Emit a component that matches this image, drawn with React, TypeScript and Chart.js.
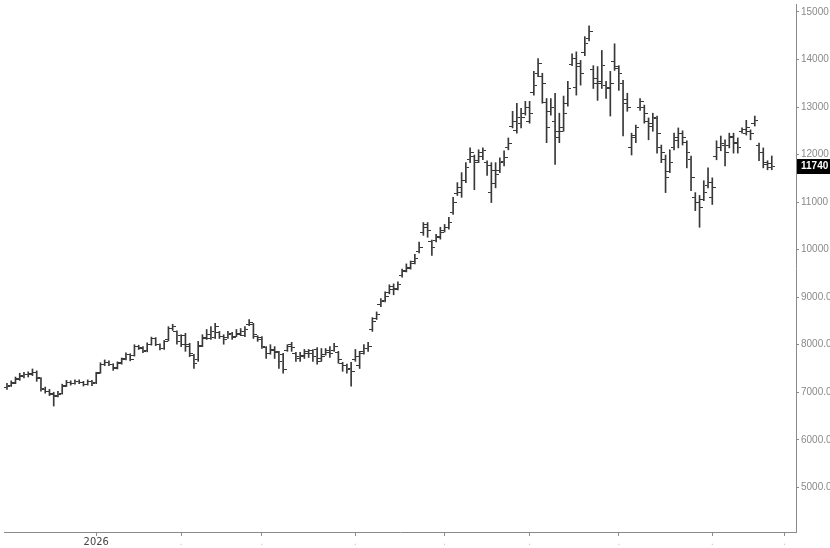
import React, { useEffect, useRef } from "react";
import { Chart, registerables } from "chart.js";

Chart.register(...registerables);

// OHLC values, one entry per trading session (index 0 = first visible bar)
const opens = [
  7090, 7150, 7200, 7280, 7340, 7370, 7390, 7420, 7290, 7060, 7010, 6960, 6930, 6980, 7140, 7200, 7190, 7220, 7200, 7170,
  7220, 7200, 7420, 7580, 7620, 7580, 7510, 7620, 7700, 7790, 7780, 7960, 7930, 7870, 8010, 8120, 8000, 7930, 8100, 8340,
  8270, 8190, 8200, 8000, 7780, 7680, 7980, 8150, 8140, 8150, 8260, 8180, 8150, 8230, 8180, 8220, 8200, 8420, 8430, 8170,
  8150, 7940, 7820, 7900, 7840, 7800, 7880, 8000, 7820, 7700, 7760, 7850, 7880, 7900, 7700, 7800, 7880, 7880, 7840, 7610,
  7560, 7500, 7680, 7560, 7850, 7920, 8320, 8560, 8840, 8930, 9100, 9220, 9180, 9460, 9560, 9630, 9740, 9960, 10350, 10520,
  10180, 10190, 10280, 10400, 10470, 10780, 11180, 11200, 11450, 11900, 11950, 11880, 11950, 11840, 11200, 11400, 11660, 11850, 12140, 12600,
  12500, 12650, 12870, 12700, 13300, 13700, 13650, 13100, 12900, 12700, 12350, 12560, 13080, 13900, 13400, 13850, 14150, 14450, 13780, 13500,
  13500, 13450, 13400, 13950, 13800, 13500, 13150, 12150, 12400, 13000, 13000, 12700, 12600, 12750, 12150, 11900, 11650, 12150, 12300, 12450,
  12250, 11900, 11100, 11000, 11050, 11350, 11100, 11950, 12150, 12200, 12200, 12380, 12250, 12480, 12450, 12480, 12650, 12200, 12050, 11800,
  11820,
];
const highs = [
  7190, 7240, 7320, 7400, 7420, 7430, 7490, 7450, 7310, 7110, 7060, 7000, 7020, 7170, 7250, 7240, 7260, 7260, 7230, 7260,
  7250, 7420, 7620, 7680, 7660, 7600, 7640, 7720, 7830, 7810, 8000, 7990, 7960, 8040, 8160, 8150, 8020, 8090, 8380, 8430,
  8290, 8210, 8240, 8030, 7800, 8070, 8210, 8320, 8380, 8450, 8280, 8210, 8280, 8260, 8320, 8340, 8380, 8530, 8450, 8190,
  8170, 7960, 8000, 7960, 7860, 7820, 8000, 8050, 7840, 7840, 7900, 7900, 7900, 7940, 7920, 7920, 7960, 8030, 7860, 7630,
  7590, 7630, 7900, 7860, 8000, 8050, 8570, 8690, 8970, 9110, 9260, 9280, 9320, 9590, 9700, 9760, 9900, 10160, 10570, 10570,
  10200, 10320, 10470, 10530, 10680, 11100, 11410, 11620, 11830, 12140, 11990, 12100, 12140, 11870, 11830, 11830, 11930, 12080, 12350, 12910,
  13080, 12970, 13120, 13120, 13750, 14020, 13710, 13180, 13180, 13290, 12870, 13230, 13540, 14120, 14160, 13980, 14480, 14710, 13870, 13850,
  14190, 13540, 13750, 14330, 13870, 13560, 13290, 12450, 12620, 13180, 13040, 12770, 12870, 12810, 12200, 11990, 12100, 12450, 12560, 12500,
  12290, 11970, 11200, 11140, 11450, 11720, 11510, 12290, 12390, 12310, 12450, 12450, 12350, 12560, 12720, 12520, 12810, 12240, 12140, 11870,
  11970,
];
const lows = [
  7060, 7120, 7180, 7250, 7300, 7320, 7350, 7230, 7020, 6980, 6930, 6710, 6900, 6960, 7120, 7150, 7170, 7180, 7130, 7150,
  7140, 7180, 7400, 7560, 7560, 7460, 7490, 7590, 7680, 7660, 7760, 7900, 7830, 7850, 7990, 7980, 7890, 7900, 8080, 8300,
  8010, 7960, 7860, 7750, 7500, 7650, 7960, 8110, 8110, 8130, 8130, 8010, 8130, 8110, 8170, 8190, 8170, 8400, 8130, 8070,
  7920, 7710, 7800, 7710, 7500, 7400, 7860, 7860, 7650, 7650, 7710, 7730, 7650, 7590, 7650, 7780, 7730, 7860, 7610, 7440,
  7400, 7130, 7650, 7500, 7800, 7860, 8280, 8530, 8800, 8900, 9070, 9050, 9150, 9420, 9530, 9590, 9700, 9930, 10300, 10260,
  9880, 10160, 10220, 10370, 10430, 10740, 11140, 11100, 11410, 11830, 11260, 11830, 11890, 11560, 10990, 11300, 11620, 11760, 12100, 12560,
  12450, 12560, 12830, 12660, 13250, 13640, 13080, 12250, 12830, 11790, 12250, 12490, 13020, 13870, 13250, 13460, 14080, 14390, 13390, 13140,
  13390, 13180, 12810, 13770, 13350, 12390, 12910, 11990, 12250, 12930, 12660, 12310, 12490, 12030, 11830, 11200, 11620, 12100, 12140, 12200,
  11720, 11240, 10820, 10470, 11030, 11300, 10950, 11890, 12080, 11760, 12140, 12030, 12030, 12450, 12410, 12310, 12600, 11870, 11720, 11680,
  11680,
];
const closes = [
  7130, 7190, 7270, 7360, 7380, 7380, 7420, 7320, 7070, 7020, 6980, 6920, 6960, 7130, 7210, 7190, 7230, 7210, 7170, 7230,
  7190, 7400, 7590, 7630, 7590, 7500, 7610, 7690, 7800, 7690, 7960, 7940, 7860, 8000, 8130, 8000, 7920, 8070, 8340, 8380,
  8070, 8010, 7960, 7820, 7610, 7960, 8130, 8210, 8280, 8380, 8170, 8110, 8210, 8150, 8230, 8280, 8320, 8470, 8210, 8110,
  7960, 7820, 7880, 7860, 7650, 7480, 7960, 7940, 7750, 7780, 7820, 7820, 7750, 7650, 7750, 7840, 7820, 7960, 7690, 7570,
  7480, 7440, 7750, 7820, 7920, 7960, 8490, 8630, 8900, 9010, 9170, 9170, 9260, 9530, 9610, 9700, 9820, 10050, 10470, 10410,
  10050, 10260, 10370, 10470, 10570, 10990, 11300, 11450, 11720, 12040, 11830, 12040, 12080, 11760, 11660, 11580, 11830, 11930, 12240, 12700,
  12770, 12770, 12980, 12870, 13460, 13910, 13500, 12560, 12980, 12490, 12490, 12870, 13390, 14020, 13910, 13710, 14330, 14580, 13600, 13540,
  13870, 13390, 13500, 13850, 13710, 13080, 12980, 12350, 12560, 13120, 12870, 12660, 12770, 12450, 12040, 11510, 11830, 12350, 12450, 12350,
  12040, 11510, 10990, 10890, 11200, 11410, 11300, 12140, 12240, 12040, 12350, 12240, 12140, 12520, 12560, 12450, 12720, 12040, 11830, 11720,
  11740,
];

// x-axis: month-start ticks (bar index) and their labels
const xTickIndices = [21, 41, 60, 82, 103, 123, 144, 166, 183];
const xTickLabels = ["2026", ".", ".", ".", ".", ".", ".", ".", "."];

// y-axis ticks
const yTickValues = [5000, 6000, 7000, 8000, 9000, 10000, 11000, 12000, 13000, 14000, 15000];

const BAR_COLOR = "#383838";

function makeTick(side: "open" | "close"): HTMLCanvasElement {
  const c = document.createElement("canvas");
  c.width = 7;
  c.height = 1;
  const g = c.getContext("2d")!;
  g.fillStyle = BAR_COLOR;
  if (side === "open") g.fillRect(0, 0, 3, 1);
  else g.fillRect(4, 0, 3, 1);
  return c;
}

export default function App() {
  const ref = useRef<HTMLCanvasElement | null>(null);

  useEffect(() => {
    const canvas = ref.current;
    if (!canvas) return;
    document.body.style.margin = "0";
    const openImg = makeTick("open");
    const closeImg = makeTick("close");
    const lastClose = closes[closes.length - 1];

    const lastPricePlugin = {
      id: "lastPrice",
      afterDraw(chart: any) {
        const y = chart.scales.y.getPixelForValue(lastClose);
        const ctx = chart.ctx;
        const left = chart.chartArea.right + 1;
        ctx.save();
        ctx.fillStyle = "#000";
        ctx.fillRect(left, Math.round(y) - 8, 830 - left, 15);
        ctx.fillStyle = "#fff";
        ctx.font = "bold 10px 'Liberation Sans', Arial, sans-serif";
        ctx.textBaseline = "middle";
        ctx.textAlign = "left";
        ctx.fillText(String(lastClose), left + 4, Math.round(y) - 0.5);
        ctx.restore();
      },
    };

    const bg = {
      id: "bg",
      beforeDraw(chart: any) {
        const ctx = chart.ctx;
        ctx.save();
        ctx.fillStyle = "#fff";
        ctx.fillRect(0, 0, chart.width, chart.height);
        ctx.restore();
      },
    };

    const noPad = (scale: any) => {
      scale.paddingTop = 0;
      scale.paddingBottom = 0;
      scale.paddingLeft = 0;
      scale.paddingRight = 0;
    };

    const chart = new Chart(canvas, {
      type: "bar",
      data: {
        datasets: [
          {
            type: "bar",
            data: closes.map((_, i) => ({ x: i, y: [lows[i], highs[i]] })) as any,
            backgroundColor: BAR_COLOR,
            borderWidth: 0,
            barThickness: 1,
            grouped: false,
          } as any,
          {
            type: "scatter",
            data: opens.map((v, i) => ({ x: i, y: v })),
            pointStyle: openImg as any,
            pointRadius: 3,
            pointHoverRadius: 3,
            showLine: false,
          } as any,
          {
            type: "scatter",
            data: closes.map((v, i) => ({ x: i, y: v })),
            pointStyle: closeImg as any,
            pointRadius: 3,
            pointHoverRadius: 3,
            showLine: false,
          } as any,
        ],
      },
      options: {
        responsive: false,
        animation: false,
        layout: { padding: 0 },
        plugins: { legend: { display: false }, tooltip: { enabled: false } },
        scales: {
          x: {
            type: "linear",
            offset: false,
            min: -0.7,
            max: 185.7,
            afterBuildTicks: (scale: any) => {
              scale.ticks = xTickIndices.map((v) => ({ value: v }));
            },
            afterFit: (scale: any) => {
              scale.height = 16;
              noPad(scale);
            },
            border: { display: true, color: "#8a8a8a", width: 1 },
            grid: { offset: false, drawOnChartArea: false, drawTicks: true, tickLength: 4, color: "#8a8a8a" },
            ticks: {
              autoSkip: false,
              maxRotation: 0,
              padding: 0,
              color: (ctx: any) => (ctx.index === 0 ? "#444" : "#c8c8c8"),
              font: { family: "'Liberation Sans Narrow', 'DejaVu Sans Condensed', Arial, sans-serif", size: 11 },
              callback: (_v: any, idx: number) => xTickLabels[idx],
            },
          },
          y: {
            position: "right",
            min: 4060,
            max: 15167,
            afterBuildTicks: (scale: any) => {
              scale.ticks = yTickValues.map((v) => ({ value: v }));
            },
            afterFit: (scale: any) => {
              scale.width = 34;
              noPad(scale);
            },
            border: { display: true, color: "#8a8a8a", width: 1 },
            grid: { offset: false, drawOnChartArea: false, drawTicks: true, tickLength: 3, color: "#8a8a8a" },
            ticks: {
              padding: 2,
              color: "#8a8a8a",
              font: { family: "'Liberation Sans', Arial, sans-serif", size: 10 },
              callback: (v: any) => (v >= 10000 ? String(v) : Number(v).toFixed(2)),
            },
          },
        },
      },
      plugins: [bg, lastPricePlugin],
    });
    return () => chart.destroy();
  }, []);

  return (
    <div style={{ position: "absolute", left: 0, top: 0 }}>
      <canvas ref={ref} width={830} height={548} style={{ width: 830, height: 548, display: "block" }} />
    </div>
  );
}
